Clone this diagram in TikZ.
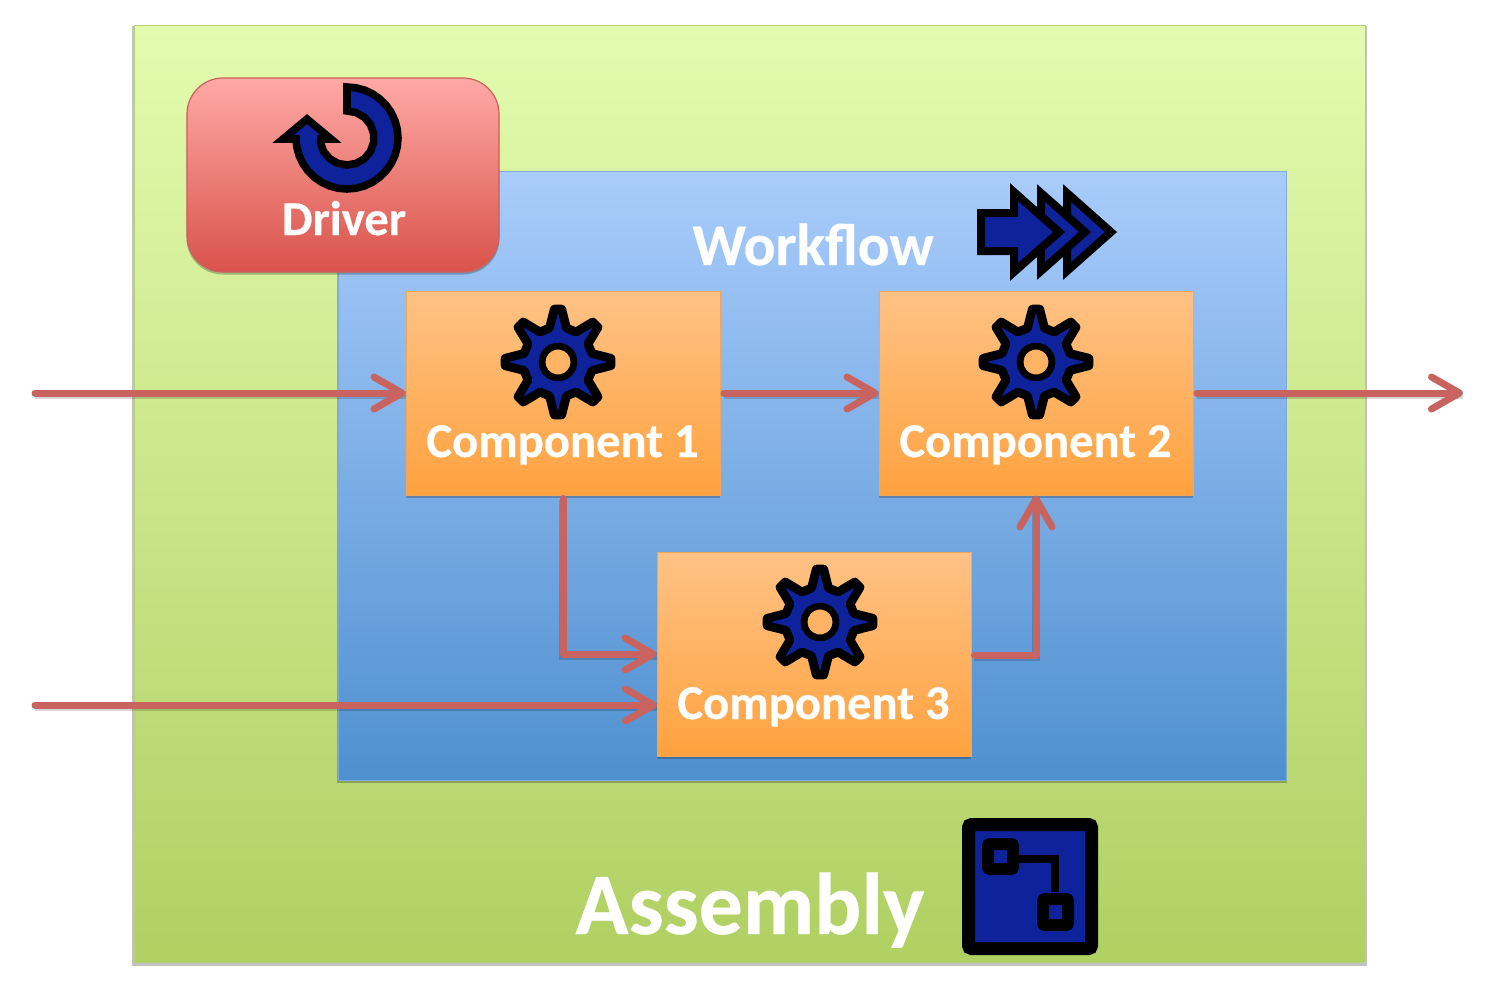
\documentclass[tikz,border=0pt]{standalone}
\usepackage{fontspec}
\setmainfont{Carlito}
\usetikzlibrary{arrows.meta,shadows}
\definecolor{iconblue}{HTML}{0E239B}
\definecolor{linkred}{HTML}{C9635F}
\definecolor{assemblytop}{HTML}{E3FBAF}
\definecolor{assemblybot}{HTML}{B0D062}
\definecolor{assemblyedge}{HTML}{B5D07A}
\definecolor{workflowtop}{HTML}{A9CCFB}
\definecolor{workflowbot}{HTML}{4F90D0}
\definecolor{workflowedge}{HTML}{7FAAD8}
\definecolor{drivertop}{HTML}{FFA9A5}
\definecolor{driverbot}{HTML}{D9534B}
\definecolor{driveredge}{HTML}{C8625C}
\definecolor{comptop}{HTML}{FFC285}
\definecolor{compbot}{HTML}{FFA23F}
\definecolor{compedge}{HTML}{F2A65A}
\tikzset{
  softshadow/.style={general shadow={fill=black,fill opacity=.24,draw=none,shadow scale=1.003,shadow xshift=0pt,shadow yshift=-1.1pt}},
  assemblybox/.style={rectangle,inner sep=0pt,minimum width=615.5pt,minimum height=468.5pt,draw=assemblyedge,line width=.5pt,top color=assemblytop,bottom color=assemblybot,softshadow},
  workflowbox/.style={rectangle,inner sep=0pt,minimum width=474pt,minimum height=304.5pt,draw=workflowedge,line width=.5pt,top color=workflowtop,bottom color=workflowbot,softshadow},
  driverbox/.style={rectangle,rounded corners=18pt,inner sep=0pt,minimum width=156pt,minimum height=97pt,draw=driveredge,line width=.6pt,top color=drivertop,bottom color=driverbot,softshadow},
  compbox/.style={rectangle,inner sep=0pt,minimum width=157pt,minimum height=102pt,draw=compedge,line width=.5pt,top color=comptop,bottom color=compbot,softshadow},
  caption/.style={text=white,font=\bfseries\fontsize{#1}{#1}\selectfont\addfontfeature{FakeBold=0.35},anchor=base,inner sep=0pt},
  link/.style={draw=linkred,line width=3.5pt,line cap=round,line join=round,
    -{Straight Barb[length=14pt,width=16pt,line width=3.5pt,round]},
    preaction={draw=black,draw opacity=.16,line width=3.7pt,transform canvas={yshift=-.9pt},-}},
  frombox/.style={shorten <=1.7pt},
  iconline/.style={draw=black,fill=iconblue,line width=4pt},
}
\newcommand{\gearicon}[2]{%
  \begin{scope}[shift={(#1,#2)}]
    \draw[iconline,line width=4.4pt,line join=round]
      (-4:53) -- (4:53) -- (14:35)
      \foreach \a in {45,90,135,180,225,270,315} {
        -- ({\a-14}:35) -- ({\a-4}:53) -- ({\a+4}:53) -- ({\a+14}:35)
      } -- (-14:35) -- cycle;
    \draw[draw=black,line width=3.4pt,fill=comptop!55!compbot] (16,0) \foreach \a in {20,40,...,340} { -- (\a:16) } -- cycle;
  \end{scope}}
\begin{document}
\begin{tikzpicture}[x=.5pt,y=-.5pt]
\useasboundingbox[fill=white] (0,0) rectangle (1486,998);
\node[assemblybox] (assembly) at (749.5,493.5) {};
\node[workflowbox] (workflow) at (812,475.5) {};
\node[driverbox] (driver) at (343,175) {};
\node[compbox] (comp1) at (563,393) {};
\node[compbox] (comp2) at (1036,393) {};
\node[compbox] (comp3) at (814,654) {};
\coordinate (in1) at (35,393);
\coordinate (in2) at (35,705);
\coordinate (in2end) at (657,705);
\coordinate (out) at (1463,393);
\coordinate (c1c3) at (563,495);
\coordinate (c3c2) at (971,655);
% connectors
\draw[link] (in1) -- (comp1.west);
\draw[link,frombox] (comp1.east) -- (comp2.west);
\draw[link,frombox] (comp2.east) -- (out);
\draw[link] (in2) -- (in2end);
\draw[link,frombox] (c1c3) |- (comp3.west);
\draw[link,frombox] (c3c2) -| (comp2.south);
% driver icon
\begin{scope}[shift={(347,138)}]
  \draw[iconline,line width=3.8pt,miter limit=8]
    (-90:51) \foreach \a in {-80,-70,...,170} { -- (\a:51) } -- (-51,1) -- (-64,1) -- (-40,-19) -- (-16,1) -- (-26,1)
    \foreach \a in {170,150,...,-70} { -- (\a:27) } -- (-90:27) -- cycle;
\end{scope}
% workflow icon
\draw[iconline,miter limit=10] (1067,193) -- (1111,232) -- (1067,271) -- cycle;
\draw[iconline,miter limit=10] (1041,193) -- (1085,232) -- (1041,271) -- cycle;
\draw[iconline,miter limit=10] (981,213) -- (1014,213) -- (1014,192) -- (1059,232) -- (1014,272) -- (1014,251) -- (981,251) -- cycle;
% gears
\gearicon{558}{362}
\gearicon{1036}{362}
\gearicon{820}{622}
% assembly icon
\draw[draw=black,fill=iconblue,line width=6.5pt,rounded corners=1.5pt] (968.5,824.5) rectangle (1091.5,948.5);
\draw[draw=black,line width=4pt] (1019,859) -- (1055,859) -- (1055,892);
\draw[draw=black,fill=iconblue,line width=6pt,rounded corners=1pt] (988,844) rectangle (1013,869);
\draw[draw=black,fill=iconblue,line width=6pt,rounded corners=1pt] (1043,899) rectangle (1068,925);
% captions
\node[caption=24.3] (driverlabel) at (344,235) {Driver};
\node[caption=29.6] (workflowlabel) at (813,265) {Workflow};
\node[caption=24.3] (label1) at (562.5,457) {Component 1};
\node[caption=24.3] (label2) at (1035.5,457) {Component 2};
\node[caption=24.3] (label3) at (813.5,719) {Component 3};
\node[caption=43.9] (assemblylabel) at (750,934) {Assembly};
\end{tikzpicture}
\end{document}
